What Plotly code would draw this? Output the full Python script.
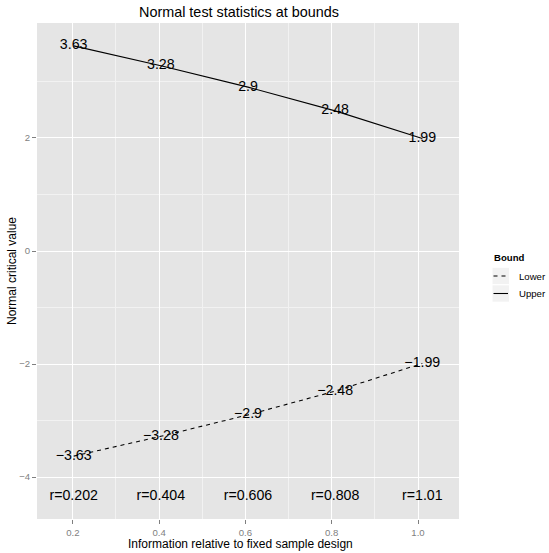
import plotly.graph_objects as go

# ---- data ----
info = [0.202, 0.404, 0.606, 0.808, 1.01]
upper = [3.63, 3.28, 2.90, 2.48, 1.99]
lower = [-3.63, -3.28, -2.90, -2.48, -1.99]
upper_labels = ["3.63", "3.28", "2.9", "2.48", "1.99"]
lower_labels = ["\u22123.63", "\u22123.28", "\u22122.9", "\u22122.48", "\u22121.99"]
r_labels = ["r=0.202", "r=0.404", "r=0.606", "r=0.808", "r=1.01"]
r_label_y = -4.34
x_ticks = [0.2, 0.4, 0.6, 0.8, 1.0]
x_ticktext = ["0.2", "0.4", "0.6", "0.8", "1.0"]
y_ticks = [-4, -2, 0, 2]
y_ticktext = ["\u22124", "\u22122", "0", "2"]

FONT = "Liberation Sans, Arial, Helvetica, sans-serif"

fig = go.Figure()
fig.add_trace(go.Scatter(x=info, y=lower, mode="lines", name="Lower",
                         line=dict(color="black", width=1.07, dash="4px,4px"),
                         showlegend=False))
fig.add_trace(go.Scatter(x=info, y=upper, mode="lines", name="Upper",
                         line=dict(color="black", width=1.07),
                         showlegend=False))
fig.add_trace(go.Scatter(x=info, y=upper, mode="text", text=upper_labels,
                         textposition="middle center",
                         textfont=dict(family=FONT, size=14.2, color="black"),
                         showlegend=False, hoverinfo="skip"))
fig.add_trace(go.Scatter(x=info, y=lower, mode="text", text=lower_labels,
                         textposition="middle center",
                         textfont=dict(family=FONT, size=14.2, color="black"),
                         showlegend=False, hoverinfo="skip"))
fig.add_trace(go.Scatter(x=info, y=[r_label_y] * len(info), mode="text", text=r_labels,
                         textposition="middle center",
                         textfont=dict(family=FONT, size=14.2, color="black"),
                         showlegend=False, hoverinfo="skip"))

W, H = 549, 553
L, R, T, B = 37, 90, 23, 34
pw = W - L - R
ph = H - T - B

def px_x(p):
    return (p - L) / pw

def px_y(p):
    return 1 - (p - T) / ph

shapes = []
annotations = []
# manual legend
annotations.append(dict(text="<b>Bound</b>", x=px_x(492), y=px_y(257), xref="paper", yref="paper",
                        xanchor="left", yanchor="middle", showarrow=False,
                        font=dict(family=FONT, size=9.6, color="black")))
key_rows = [("Lower", "4px,4px", 276), ("Upper", "solid", 293.5)]
for name, dash, cy in key_rows:
    shapes.append(dict(type="rect", xref="paper", yref="paper",
                       x0=px_x(492), x1=px_x(509.5), y0=px_y(cy - 8.7), y1=px_y(cy + 8.7),
                       fillcolor="#F2F2F2", line=dict(color="white", width=1), layer="below"))
    shapes.append(dict(type="line", xref="paper", yref="paper",
                       x0=px_x(493.5), x1=px_x(508), y0=px_y(cy), y1=px_y(cy),
                       line=dict(color="black", width=1.07, dash=dash)))
    annotations.append(dict(text=name, x=px_x(516.5), y=px_y(cy), xref="paper", yref="paper",
                            xanchor="left", yanchor="middle", showarrow=False,
                            font=dict(family=FONT, size=9.6, color="black")))

# title and axis titles
annotations.append(dict(text="Normal test statistics at bounds", x=px_x(239), y=px_y(12),
                        xref="paper", yref="paper", xanchor="center", yanchor="middle",
                        showarrow=False, font=dict(family=FONT, size=14.4, color="black")))
annotations.append(dict(text="Information relative to fixed sample design", x=px_x(240), y=px_y(544),
                        xref="paper", yref="paper", xanchor="center", yanchor="middle",
                        showarrow=False, font=dict(family=FONT, size=12, color="black")))
annotations.append(dict(text="Normal critical value", x=px_x(12), y=px_y(271), textangle=-90,
                        xref="paper", yref="paper", xanchor="center", yanchor="middle",
                        showarrow=False, font=dict(family=FONT, size=12, color="black")))

fig.update_layout(
    width=W, height=H,
    margin=dict(l=L, r=R, t=T, b=B, pad=0),
    paper_bgcolor="white",
    plot_bgcolor="#E5E5E5",
    showlegend=False,
    shapes=shapes,
    annotations=annotations,
    font=dict(family=FONT),
    xaxis=dict(range=[0.117, 1.095], tickvals=x_ticks, ticktext=x_ticktext,
               showgrid=True, gridcolor="white", gridwidth=1.07, zeroline=False,
               ticks="outside", ticklen=4, tickcolor="#7F7F7F", tickwidth=1,
               tickfont=dict(family=FONT, size=9.6, color="#7F7F7F"),
               minor=dict(tick0=0.1, dtick=0.2, showgrid=True, gridcolor="#F2F2F2", gridwidth=0.55,
                          ticks=""),
               showline=False, fixedrange=True),
    yaxis=dict(range=[-4.743, 4.035], tickvals=y_ticks, ticktext=y_ticktext,
               showgrid=True, gridcolor="white", gridwidth=1.07, zeroline=False,
               ticks="outside", ticklen=4, tickcolor="#7F7F7F", tickwidth=1,
               tickfont=dict(family=FONT, size=9.6, color="#7F7F7F"),
               minor=dict(tick0=1, dtick=2, showgrid=True, gridcolor="#F2F2F2", gridwidth=0.55,
                          ticks=""),
               showline=False, fixedrange=True),
)

fig.write_html("out.html", config={"displayModeBar": False},
               post_script="document.body.style.margin='0';document.body.style.overflow='hidden';")
